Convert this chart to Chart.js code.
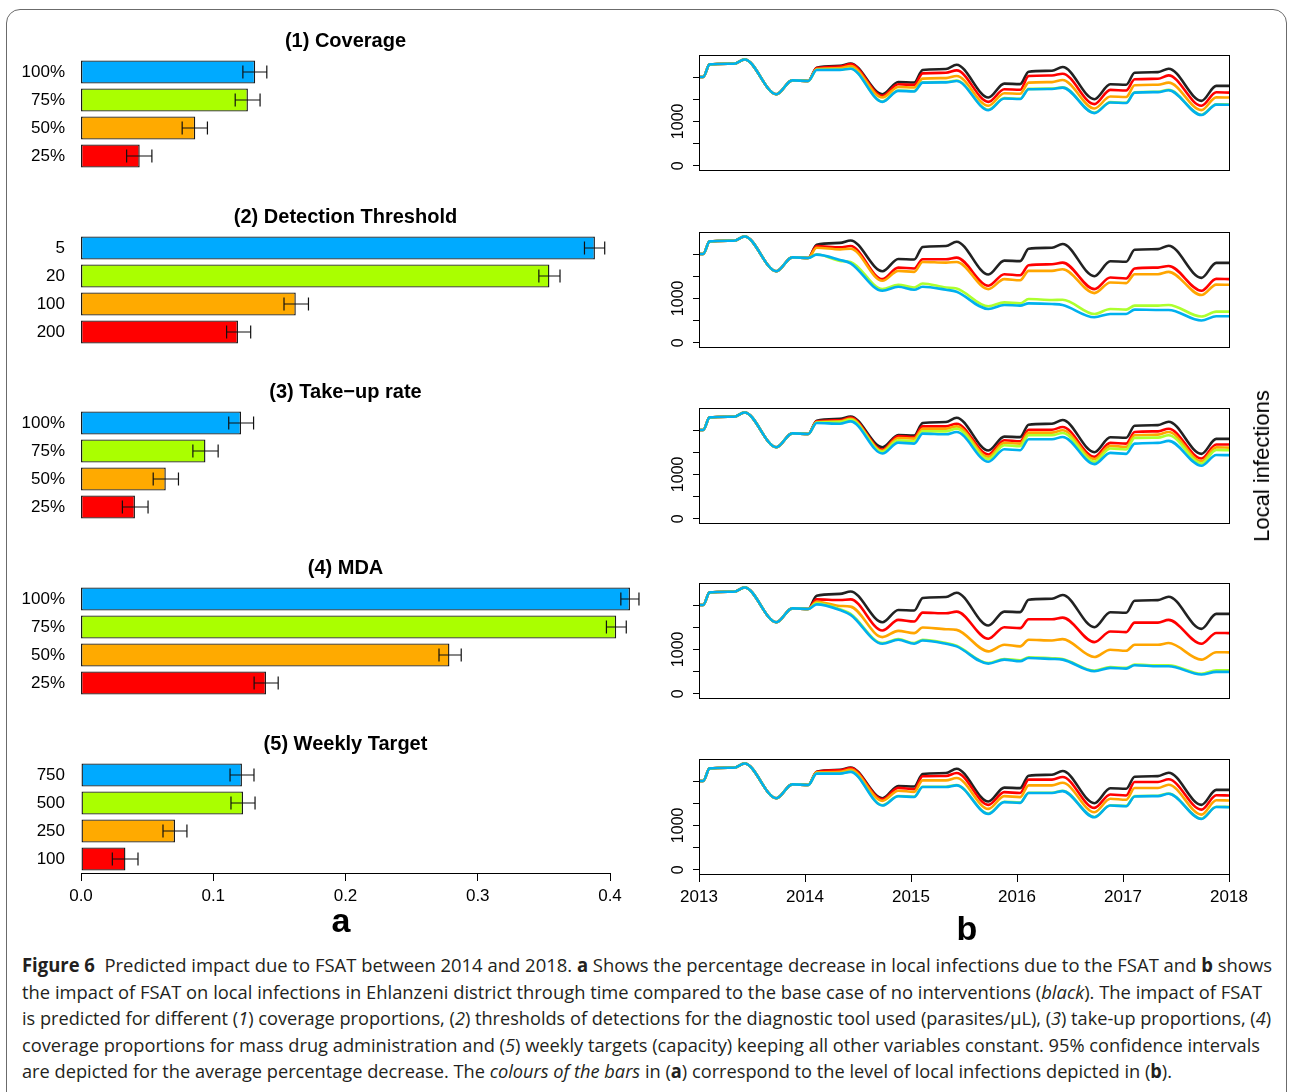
<!DOCTYPE html>
<html>
<head>
<meta charset="utf-8">
<script src="https://cdn.jsdelivr.net/npm/chart.js@4.4.1/dist/chart.umd.min.js"></script>
<style>
body { margin:0; background:#fff; width:1290px; height:1092px; overflow:hidden; position:relative; font-family:'Liberation Sans', Arial, sans-serif; }
#frame { position:absolute; left:6px; top:9px; width:1281px; height:1110px; border:1.5px solid #6b6b6b; border-radius:14px; box-sizing:border-box; }
canvas { position:absolute; }
.lab { position:absolute; font-weight:bold; font-size:34px; line-height:1; transform:translateX(-50%); }
#ylab { position:absolute; left:1262px; top:466px; font-size:22px; transform:translate(-50%,-50%) rotate(-90deg); white-space:nowrap; }
#caption { position:absolute; left:22px; top:952px; font-family:'Open Sans', sans-serif; font-size:19px; line-height:26.5px; color:#231f20; }
#caption div { white-space:nowrap; transform-origin:0 50%; width:max-content; }
</style>
</head>
<body>
<div id="frame"></div>
<canvas id="bar1"></canvas><canvas id="bar2"></canvas><canvas id="bar3"></canvas><canvas id="bar4"></canvas><canvas id="bar5"></canvas>
<canvas id="line1"></canvas><canvas id="line2"></canvas><canvas id="line3"></canvas><canvas id="line4"></canvas><canvas id="line5"></canvas>
<div class="lab" style="left:341px; top:903px;">a</div>
<div class="lab" style="left:967px; top:911px;">b</div>
<div id="ylab">Local infections</div>
<div id="caption">
<div><b>Figure 6</b>&nbsp; Predicted impact due to FSAT between 2014 and 2018. <b>a</b> Shows the percentage decrease in local infections due to the FSAT and <b>b</b> shows</div>
<div>the impact of FSAT on local infections in Ehlanzeni district through time compared to the base case of no interventions (<i>black</i>). The impact of FSAT</div>
<div>is predicted for different (<i>1</i>) coverage proportions, (<i>2</i>) thresholds of detections for the diagnostic tool used (parasites/µL), (<i>3</i>) take-up proportions, (<i>4</i>)</div>
<div>coverage proportions for mass drug administration and (<i>5</i>) weekly targets (capacity) keeping all other variables constant. 95% confidence intervals</div>
<div>are depicted for the average percentage decrease. The <i>colours of the bars</i> in (<b>a</b>) correspond to the level of local infections depicted in (<b>b</b>).</div>
</div>
<script>
// panel (a): mean percentage decrease and 95% CI
const panelTitles = ['(1) Coverage', '(2) Detection Threshold', '(3) Take\u2212up rate', '(4) MDA', '(5) Weekly Target'];

const coverageLabels = ['100%', '75%', '50%', '25%'];
const coverageMean = [0.1317, 0.1262, 0.0864, 0.0444];
const coverageLow = [0.1224, 0.1166, 0.0765, 0.0345];
const coverageHigh = [0.1405, 0.1354, 0.0956, 0.0536];

const thresholdLabels = ['5', '20', '100', '200'];
const thresholdMean = [0.3886, 0.3542, 0.1624, 0.1187];
const thresholdLow = [0.3807, 0.3462, 0.1535, 0.1101];
const thresholdHigh = [0.3960, 0.3622, 0.1720, 0.1283];

const takeupLabels = ['100%', '75%', '50%', '25%'];
const takeupMean = [0.1210, 0.0941, 0.0641, 0.0408];
const takeupLow = [0.1117, 0.0846, 0.0546, 0.0313];
const takeupHigh = [0.1305, 0.1037, 0.0737, 0.0507];

const mdaLabels = ['100%', '75%', '50%', '25%'];
const mdaMean = [0.4151, 0.4047, 0.2786, 0.1399];
const mdaLow = [0.4082, 0.3973, 0.2707, 0.1309];
const mdaHigh = [0.4219, 0.4123, 0.2875, 0.1491];

const targetLabels = ['750', '500', '250', '100'];
const targetMean = [0.1217, 0.1225, 0.0711, 0.0336];
const targetLow = [0.1127, 0.1134, 0.0620, 0.0237];
const targetHigh = [0.1308, 0.1316, 0.0801, 0.0431];

const barTicks = [0, 0.1, 0.2, 0.3, 0.4];

// panel (b): local infections through time
const timePoints = [2013.00, 2013.04, 2013.10, 2013.33, 2013.43, 2013.73, 2013.88, 2014.03,
  2014.11, 2014.33, 2014.43, 2014.73, 2014.88, 2015.03,
  2015.11, 2015.33, 2015.43, 2015.73, 2015.88, 2016.03,
  2016.11, 2016.33, 2016.43, 2016.73, 2016.88, 2017.03,
  2017.11, 2017.33, 2017.43, 2017.74, 2017.88, 2018.00];
const yearTicks = [2013, 2014, 2015, 2016, 2017, 2018];
const infectionTicks = [0, 500, 1000, 1500, 2000];
const infectionLabels = [0, 1000];

// same for every scenario until FSAT starts in 2014
const before2014 = [2000, 2000, 2284, 2300, 2395, 1612, 1925, 1910];
const baseAfter2014 = [2209, 2250, 2306, 1612, 1888, 1875, 2157, 2180, 2276, 1537, 1851, 1840, 2119, 2140, 2224, 1500, 1836, 1825, 2097, 2110, 2187, 1463, 1799, 1799];

const covRed = [2200, 2235, 2290, 1575, 1836, 1822, 2082, 2095, 2149, 1440, 1724, 1712, 2022, 2035, 2075, 1388, 1709, 1697, 1948, 1960, 2037, 1351, 1655, 1649];
const covOrange = [2180, 2200, 2246, 1537, 1776, 1762, 1963, 1975, 2022, 1351, 1634, 1622, 1873, 1885, 1933, 1291, 1560, 1548, 1813, 1825, 1873, 1254, 1540, 1537];
const covGreen = [2165, 2168, 2195, 1448, 1695, 1683, 1881, 1888, 1918, 1262, 1523, 1511, 1732, 1738, 1769, 1195, 1433, 1421, 1657, 1668, 1709, 1150, 1386, 1381];
const covBlue = [2157, 2160, 2187, 1440, 1687, 1675, 1873, 1880, 1910, 1254, 1515, 1503, 1724, 1730, 1761, 1187, 1425, 1413, 1649, 1660, 1701, 1142, 1378, 1373];

const thrRed = [2179, 2150, 2179, 1433, 1694, 1672, 1881, 1881, 1918, 1284, 1545, 1522, 1746, 1769, 1806, 1209, 1470, 1448, 1672, 1694, 1731, 1172, 1440, 1433];
const thrOrange = [2142, 2104, 2119, 1396, 1619, 1597, 1821, 1806, 1821, 1209, 1433, 1410, 1619, 1619, 1657, 1119, 1358, 1343, 1545, 1545, 1597, 1075, 1310, 1306];
const thrGreen = [1995, 1843, 1821, 1209, 1306, 1246, 1336, 1246, 1224, 821, 910, 888, 985, 963, 970, 649, 761, 746, 836, 836, 851, 590, 701, 701];
const thrBlue = [1985, 1866, 1791, 1172, 1261, 1194, 1261, 1194, 1149, 761, 851, 836, 888, 873, 851, 575, 649, 649, 746, 739, 739, 500, 597, 597];

const takRed = [2195, 2220, 2280, 1560, 1866, 1843, 2082, 2082, 2142, 1448, 1769, 1746, 2007, 2007, 2067, 1396, 1709, 1694, 1955, 1970, 2030, 1358, 1675, 1672];
const takOrange = [2180, 2194, 2254, 1530, 1821, 1806, 2030, 2030, 2082, 1396, 1709, 1694, 1940, 1940, 1993, 1343, 1642, 1619, 1881, 1896, 1955, 1299, 1608, 1604];
const takGreen = [2170, 2179, 2231, 1507, 1769, 1746, 1970, 1970, 2030, 1343, 1657, 1634, 1881, 1881, 1933, 1284, 1582, 1560, 1821, 1828, 1881, 1246, 1548, 1545];
const takBlue = [2157, 2142, 2194, 1470, 1716, 1694, 1918, 1903, 1955, 1284, 1567, 1545, 1791, 1791, 1843, 1231, 1485, 1463, 1694, 1709, 1754, 1194, 1436, 1433];

const mdaRed = [2127, 2112, 2127, 1425, 1664, 1627, 1828, 1813, 1851, 1239, 1500, 1478, 1679, 1679, 1716, 1164, 1403, 1388, 1604, 1604, 1664, 1127, 1370, 1366];
const mdaOrange = [2075, 1978, 1963, 1276, 1418, 1366, 1493, 1455, 1440, 955, 1104, 1067, 1216, 1201, 1231, 828, 993, 970, 1104, 1104, 1142, 769, 935, 933];
const mdaGreen = [2037, 1903, 1799, 1142, 1231, 1142, 1216, 1142, 1082, 694, 784, 754, 821, 799, 784, 522, 604, 582, 657, 642, 642, 448, 530, 530];
const mdaBlue = [2015, 1888, 1776, 1127, 1216, 1127, 1201, 1127, 1067, 679, 769, 731, 806, 784, 769, 507, 582, 567, 642, 619, 619, 433, 493, 493];

const tgtRed = [2205, 2243, 2290, 1591, 1845, 1815, 2106, 2114, 2182, 1462, 1750, 1728, 2031, 2031, 2091, 1394, 1697, 1675, 1978, 1978, 2038, 1356, 1680, 1675];
const tgtOrange = [2195, 2205, 2258, 1553, 1780, 1755, 2015, 2015, 2068, 1372, 1659, 1637, 1902, 1902, 1962, 1296, 1599, 1576, 1841, 1841, 1917, 1243, 1565, 1561];
const tgtGreen = [2175, 2175, 2213, 1455, 1663, 1648, 1872, 1872, 1910, 1266, 1531, 1516, 1736, 1736, 1781, 1190, 1455, 1440, 1660, 1667, 1720, 1152, 1421, 1417];
const tgtBlue = [2167, 2167, 2205, 1447, 1655, 1640, 1864, 1864, 1902, 1258, 1523, 1508, 1728, 1728, 1773, 1182, 1447, 1432, 1652, 1659, 1712, 1144, 1413, 1409];

const barColors = ['#00aaff', '#aaff00', '#ffaa00', '#ff0000'];
// blue, green, orange, red, black (first one ends on top)
const lineColors = ['#00b0ee', '#adff2f', '#ffa500', '#ff0000', '#222222'];

const FONT = 'Liberation Sans, Arial, sans-serif';
const captionWidths = [1250, 1240, 1249, 1238, 1150];

// no automatic room for half labels, the canvases are placed by hand
function noPad(s) { s.paddingTop = 0; s.paddingBottom = 0; s.paddingLeft = 0; s.paddingRight = 0; }

const errorBars = {
  id: 'errorBars',
  afterDatasetsDraw(chart, args, opts) {
    const ctx = chart.ctx;
    const xs = chart.scales.x;
    const bars = chart.getDatasetMeta(0).data;
    ctx.save();
    ctx.strokeStyle = '#111';
    ctx.lineWidth = 1.2;
    bars.forEach((bar, i) => {
      const x0 = xs.getPixelForValue(opts.low[i]);
      const x1 = xs.getPixelForValue(opts.high[i]);
      ctx.beginPath();
      ctx.moveTo(x0, bar.y); ctx.lineTo(x1, bar.y);
      ctx.moveTo(x0, bar.y - 6.5); ctx.lineTo(x0, bar.y + 6.5);
      ctx.moveTo(x1, bar.y - 6.5); ctx.lineTo(x1, bar.y + 6.5);
      ctx.stroke();
    });
    ctx.restore();
  }
};

const plotBox = {
  id: 'plotBox',
  afterDraw(chart) {
    const a = chart.chartArea, ctx = chart.ctx;
    ctx.save();
    ctx.strokeStyle = '#000';
    ctx.lineWidth = 1;
    ctx.strokeRect(Math.round(a.left) + 0.5, Math.round(a.top) + 0.5, Math.round(a.right - a.left), Math.round(a.bottom - a.top));
    ctx.restore();
  }
};

function barChart(id, areaTop, title, labels, mean, low, high, showAxis) {
  const cv = document.getElementById(id);
  cv.width = 660;
  cv.height = showAxis ? 181 : 141;
  cv.style.left = '0px';
  cv.style.top = (areaTop - 29) + 'px';
  new Chart(cv, {
    type: 'bar',
    data: {
      labels: labels,
      datasets: [{
        data: mean,
        backgroundColor: barColors,
        borderColor: '#1a1a1a',
        borderWidth: 1.4,
        borderSkipped: false,
        barPercentage: 0.83,
        categoryPercentage: 1,
        clip: false
      }]
    },
    options: {
      indexAxis: 'y',
      responsive: false,
      animation: false,
      devicePixelRatio: 1,
      layout: { padding: { left: 0, right: 50, top: 0, bottom: 0 } },
      plugins: {
        legend: { display: false },
        tooltip: { enabled: false },
        title: {
          display: true, text: title, fullSize: false, color: '#000',
          font: { family: FONT, size: 20, weight: 'bold' },
          padding: { top: 0, bottom: 5 }
        },
        errorBars: { low: low, high: high }
      },
      scales: {
        x: {
          type: 'linear', min: 0, max: 0.4, display: showAxis,
          afterFit: s => { noPad(s); if (showAxis) s.height = 40; },
          afterBuildTicks: s => { s.ticks = barTicks.map(v => ({ value: v })); },
          ticks: { callback: v => v.toFixed(1), color: '#000', font: { family: FONT, size: 17 }, padding: 5, maxRotation: 0, autoSkip: false },
          grid: { drawOnChartArea: false, tickLength: 8, color: '#000' },
          border: { display: true, color: '#000', width: 1 }
        },
        y: {
          afterFit: s => { noPad(s); s.width = 81; },
          ticks: { color: '#000', font: { family: FONT, size: 17 }, padding: 16, autoSkip: false },
          grid: { display: false, drawTicks: false },
          border: { display: false }
        }
      }
    },
    plugins: [errorBars]
  });
}

function lineChart(id, boxTop, series, showAxis) {
  const cv = document.getElementById(id);
  cv.width = 630;
  cv.height = showAxis ? 157 : 119;
  cv.style.left = '660px';
  cv.style.top = (boxTop - 2) + 'px';
  const datasets = series.map((vals, k) => ({
    data: timePoints.map((t, i) => ({ x: t, y: vals[i] })),
    borderColor: lineColors[k],
    borderWidth: 2.6,
    pointRadius: 0,
    fill: false,
    cubicInterpolationMode: 'monotone'
  }));
  new Chart(cv, {
    type: 'line',
    data: { datasets: datasets },
    options: {
      responsive: false,
      animation: false,
      devicePixelRatio: 1,
      layout: { padding: { left: 0, right: 61, top: 2, bottom: showAxis ? 0 : 2 } },
      plugins: { legend: { display: false }, tooltip: { enabled: false } },
      scales: {
        x: {
          type: 'linear', min: 2013, max: 2018, display: showAxis,
          afterFit: s => { noPad(s); if (showAxis) s.height = 40; },
          afterBuildTicks: s => { s.ticks = yearTicks.map(v => ({ value: v })); },
          ticks: { callback: v => String(v), color: '#000', font: { family: FONT, size: 17 }, padding: 5, maxRotation: 0, autoSkip: false },
          grid: { drawOnChartArea: false, tickLength: 8, color: '#000' },
          border: { display: false }
        },
        y: {
          min: -96, max: 2496,
          afterFit: s => { noPad(s); s.width = 39; },
          afterBuildTicks: s => { s.ticks = infectionTicks.map(v => ({ value: v })); },
          ticks: {
            callback: v => infectionLabels.includes(v) ? String(v) : '',
            minRotation: 90, maxRotation: 90, crossAlign: 'center', padding: -3,
            color: '#000', font: { family: FONT, size: 16 }, autoSkip: false
          },
          grid: { drawOnChartArea: false, tickLength: 6, color: '#000' },
          border: { display: false }
        }
      }
    },
    plugins: [plotBox]
  });
}

function withStart(vals) { return before2014.concat(vals); }

barChart('bar1', 58, panelTitles[0], coverageLabels, coverageMean, coverageLow, coverageHigh, false);
barChart('bar2', 234, panelTitles[1], thresholdLabels, thresholdMean, thresholdLow, thresholdHigh, false);
barChart('bar3', 409, panelTitles[2], takeupLabels, takeupMean, takeupLow, takeupHigh, false);
barChart('bar4', 585, panelTitles[3], mdaLabels, mdaMean, mdaLow, mdaHigh, false);
barChart('bar5', 761, panelTitles[4], targetLabels, targetMean, targetLow, targetHigh, true);

const base = withStart(baseAfter2014);
lineChart('line1', 55, [withStart(covBlue), withStart(covGreen), withStart(covOrange), withStart(covRed), base], false);
lineChart('line2', 232, [withStart(thrBlue), withStart(thrGreen), withStart(thrOrange), withStart(thrRed), base], false);
lineChart('line3', 408, [withStart(takBlue), withStart(takGreen), withStart(takOrange), withStart(takRed), base], false);
lineChart('line4', 583, [withStart(mdaBlue), withStart(mdaGreen), withStart(mdaOrange), withStart(mdaRed), base], false);
lineChart('line5', 759, [withStart(tgtBlue), withStart(tgtGreen), withStart(tgtOrange), withStart(tgtRed), base], true);

document.querySelectorAll('#caption div').forEach((d, i) => {
  const w = d.getBoundingClientRect().width;
  d.style.transform = 'scaleX(' + (captionWidths[i] / w).toFixed(4) + ')';
});
</script>
</body>
</html>
